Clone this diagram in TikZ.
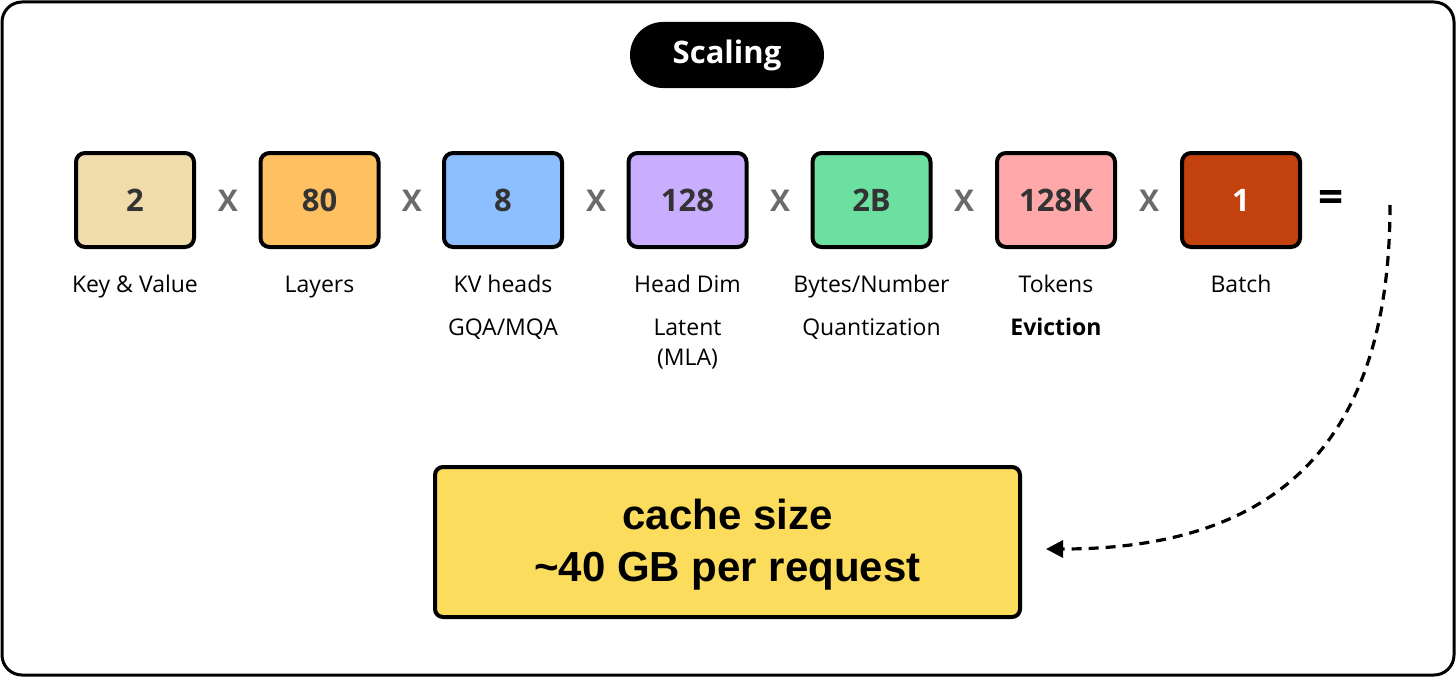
\documentclass[tikz,border=0pt]{standalone}
\usepackage{fontspec}
\setmainfont{Open Sans}
\newfontfamily\bigfont{Liberation Sans}
\usetikzlibrary{arrows.meta}
\definecolor{cA}{HTML}{F0DCAA}
\definecolor{cB}{HTML}{FFC062}
\definecolor{cC}{HTML}{8DBEFF}
\definecolor{cD}{HTML}{C9AEFF}
\definecolor{cE}{HTML}{6BE0A0}
\definecolor{cF}{HTML}{FFA8AA}
\definecolor{cG}{HTML}{C2410C}
\definecolor{cY}{HTML}{FCDC5C}
\definecolor{numtxt}{HTML}{333333}
\definecolor{xgray}{HTML}{6B6B6B}
\tikzset{
  valbox/.style={draw=black, line width=4pt, rounded corners=9pt, minimum width=118pt, minimum height=94pt, font=\fontsize{31}{36}\selectfont\bfseries, text=numtxt},
  times/.style={font=\fontsize{30}{34}\selectfont\bfseries, text=xgray},
  lbl/.style={font=\fontsize{23}{27}\selectfont, text=black, anchor=base},
}
\begin{document}
\begin{tikzpicture}[x=1pt,y=-1pt]
\useasboundingbox (0,0) rectangle (1456,677);
\draw[line width=3pt, rounded corners=20pt] (2,2) rectangle (1454,675);
\node[fill=black, rounded corners=33pt, minimum width=194pt, minimum height=66pt, text=white, font=\fontsize{31}{34}\selectfont\bfseries] (title) at (727,55) {Scaling};

\node[valbox, fill=cA] (b1) at (135,200) {2};
\node[valbox, fill=cB] (b2) at (319.5,200) {80};
\node[valbox, fill=cC] (b3) at (503,200) {8};
\node[valbox, fill=cD] (b4) at (687.5,200) {128};
\node[valbox, fill=cE] (b5) at (871.5,200) {2B};
\node[valbox, fill=cF] (b6) at (1056,200) {128K};
\node[valbox, fill=cG, text=white] (b7) at (1241,200) {1};

\node[times] (x1) at (228,201) {X};
\node[times] (x2) at (412,201) {X};
\node[times] (x3) at (596,201) {X};
\node[times] (x4) at (780,201) {X};
\node[times] (x5) at (964,201) {X};
\node[times] (x6) at (1149,201) {X};
\node[font=\fontsize{44}{48}\selectfont\bfseries] (eq) at (1331,201) {=};

\node[lbl] (l1) at (135,292) {Key \& Value};
\node[lbl] (l2) at (319.5,292) {Layers};
\node[lbl] (l3) at (503,292) {KV heads};
\node[lbl] (l4) at (687.5,292) {Head Dim};
\node[lbl] (l5) at (871.5,292) {Bytes/Number};
\node[lbl] (l6) at (1056,292) {Tokens};
\node[lbl] (l7) at (1241,292) {Batch};
\node[lbl] (m3) at (503,335) {GQA/MQA};
\node[lbl] (m4) at (687.5,335) {Latent};
\node[lbl] (m4b) at (687.5,365) {(MLA)};
\node[lbl] (m5) at (871.5,335) {Quantization};
\node[lbl, font=\fontsize{23}{27}\selectfont\bfseries] (m6) at (1056,335) {Eviction};

\node[draw=black, line width=4pt, rounded corners=8pt, fill=cY, minimum width=585pt, minimum height=150pt] (res) at (727.5,542) {};
\node[align=center, font=\bigfont\fontsize{42}{52}\selectfont\bfseries] (restxt) at (727.5,545) {cache size\\\textasciitilde40 GB per request};

\coordinate (start) at (1390,205);
\coordinate (tip) at (1046,549);
\draw[line width=3.2pt, dash pattern=on 10pt off 7pt, -{Triangle[length=17pt,width=17pt]}] (start) .. controls (1390,450) and (1270,549) .. (tip);
\end{tikzpicture}
\end{document}
